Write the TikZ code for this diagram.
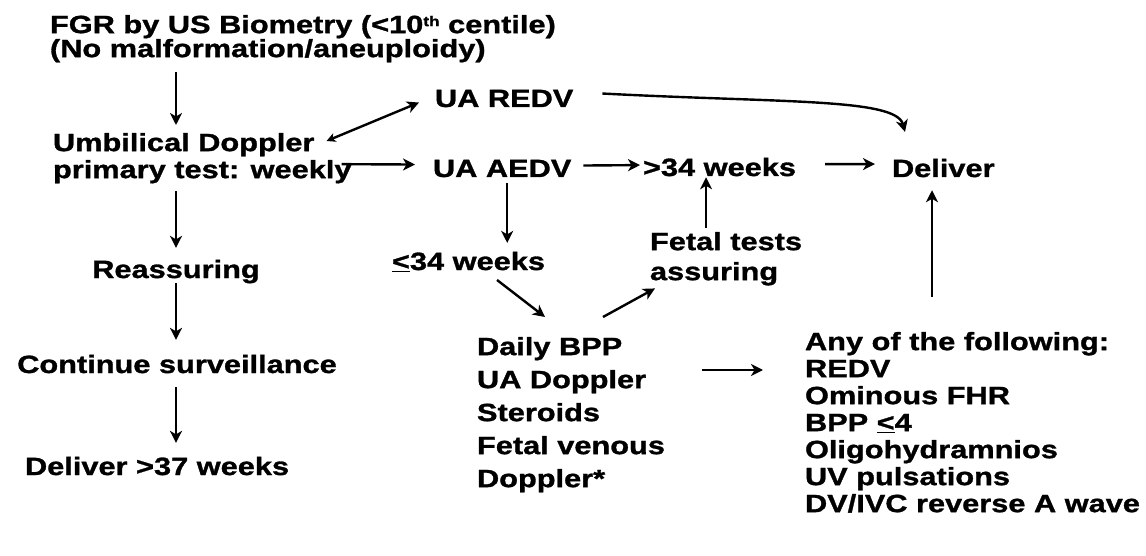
\documentclass[tikz,border=0pt]{standalone}
\usepackage{fontspec}
\newfontfamily\labfont{Liberation Sans}[FakeStretch=1.23, BoldFeatures={FakeBold=1.2}]
\usetikzlibrary{arrows.meta}
\tikzset{
  lbl/.style={font=\labfont\bfseries\fontsize{25}{#1}\selectfont, inner sep=0pt, outer sep=0pt},
  lbl/.default=27,
  multi/.style={align=left},
  arr/.style={line width=2.4pt, -{Stealth[length=12pt,width=12pt,inset=3.5pt]}},
  darr/.style={line width=2.4pt, {Stealth[length=9pt,width=9pt,inset=2.5pt]}-{Stealth[length=12pt,width=12pt,inset=3.5pt]}},
}
\begin{document}
\begin{tikzpicture}[x=1pt,y=1pt]
\useasboundingbox (0,0) rectangle (1146,-556);
\fill[white] (0,0) rectangle (1146,-556);

% nodes
\node[lbl=24, multi, anchor=north west] (fgr) at (50,-15) {FGR by US Biometry (<10\raisebox{7pt}{\fontsize{14}{14}\selectfont th} centile)\\(No malformation/aneuploidy)};
\node[lbl=27, multi, anchor=north west] (umb) at (53,-133) {Umbilical Doppler\\primary test: weekly};
\node[lbl, anchor=base] (reas) at (176,-278) {Reassuring};
\node[lbl, anchor=base] (cont) at (177,-373) {Continue surveillance};
\node[lbl, anchor=base west] (del37) at (25,-475) {Deliver >37 weeks};
\node[lbl, anchor=base west] (redv) at (435,-107) {UA REDV};
\node[lbl, anchor=base west] (aedv) at (433,-177) {UA AEDV};
\node[lbl, anchor=base west] (gt34) at (643,-176) {>34 weeks};
\node[lbl, anchor=base west] (deliver) at (892,-177) {Deliver};
\node[lbl, anchor=base west] (le34) at (392,-270) {\underline{<}34 weeks};
\node[lbl=30, multi, anchor=north west] (fetal) at (650,-232) {Fetal tests\\assuring};
\node[lbl=33, multi, anchor=north west] (daily) at (477,-337) {Daily BPP\\UA Doppler\\Steroids\\Fetal venous\\Doppler*};
\node[lbl=27, multi, anchor=north west] (any) at (805,-332) {Any of the following:\\REDV\\Ominous FHR\\BPP \underline{<}4\\Oligohydramnios\\UV pulsations\\DV/IVC reverse A wave};

% left column
\draw[arr, shorten <=10pt, shorten >=8pt] (fgr.south -| reas) -- (umb.north -| reas);
\draw[arr, shorten <=8pt, shorten >=12pt] (umb.south -| reas) -- (reas.north);
\draw[arr, shorten >=15pt] (reas.south) -- (reas.south |- cont.north);
\draw[arr, shorten <=14pt, shorten >=14pt] (cont.south -| reas) -- (del37.north -| reas);

% umbilical to UA REDV / UA AEDV
\draw[darr] ([xshift=-25pt,yshift=-8pt]umb.north east) -- ([xshift=-16pt,yshift=-4pt]redv.west);
\draw[arr] ([xshift=-10pt,yshift=-6pt]umb.east) -- ([xshift=-18pt,yshift=4pt]aedv.west);

% UA REDV to Deliver (curve)
\draw[arr] ([xshift=29pt,yshift=5pt]redv.east) .. controls +(-3:180) and +(105:35) .. ([xshift=13pt,yshift=27pt]deliver.north west);

% UA AEDV branch
\draw[arr] ([xshift=12pt,yshift=3pt]aedv.east) -- ([xshift=-3pt,yshift=2pt]gt34.west);
\draw[arr] ([xshift=29pt,yshift=3pt]gt34.east) -- ([xshift=-17pt,yshift=4pt]deliver.west);
\coordinate (c1) at ([xshift=5pt,yshift=-6pt]aedv.south);
\draw[arr, shorten >=9pt] (c1) -- (c1 |- le34.north);
\draw[arr] ([xshift=-48pt,yshift=-8pt]le34.south east) -- ([xshift=68pt,yshift=20pt]daily.north west);
\draw[arr] ([xshift=126pt,yshift=20pt]daily.north west) -- ([xshift=5pt,yshift=-3pt]fetal.south west);
\coordinate (c2) at ([xshift=-20pt,yshift=4pt]fetal.north);
\draw[arr, shorten >=1pt] (c2) -- (c2 |- gt34.south);
\draw[arr] ([xshift=37pt,yshift=-33pt]daily.north east) -- ([xshift=-42pt,yshift=-38pt]any.north west);
\coordinate (c3) at ([xshift=127pt,yshift=35pt]any.north west);
\draw[arr, shorten >=13pt] (c3) -- (c3 |- deliver.south);
\end{tikzpicture}
\end{document}
